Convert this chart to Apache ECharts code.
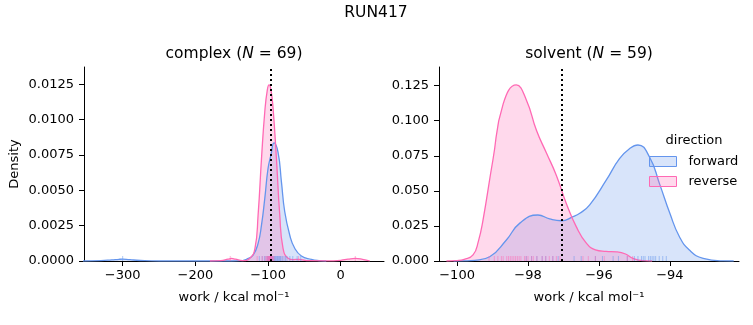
<!DOCTYPE html>
<html>
<head>
<meta charset="utf-8">
<script src="https://cdn.jsdelivr.net/npm/echarts@6/dist/echarts.min.js"></script>
<style>
html,body{margin:0;padding:0;background:#fff;}
#chart{width:753px;height:325px;}
</style>
</head>
<body>
<div id="chart"></div>
<script>
// ---------- data ----------
const suptitle = 'RUN417';
const legendTitle = 'direction';
const directions = ['forward', 'reverse'];
const xLabel = 'work / kcal mol\u207B\u00B9';
const yLabel = 'Density';

// complex panel (N = 69)
const complexN = 69;
const complexXTicks = [-300, -200, -100, 0];
const complexYTicks = [0, 0.0025, 0.005, 0.0075, 0.01, 0.0125];
const complexMean = -96.3;
const complexFwdX = [-355, -330, -315, -305, -300, -295, -285, -270, -250, -200, -150, -135, -129.7, -120.6, -113.7, -109, -104.5, -100, -96, -91.8, -86.3, -81.6, -77.1, -70.2, -63.3, -54.1, -40.4, -30, -20];
const complexFwdY = [0, 0.00003, 0.00008, 0.00012, 0.00013, 0.00012, 0.00007, 0.00002, 0, 0, 0, 0.00003, 0.00012, 0.00042, 0.00125, 0.00255, 0.00443, 0.00655, 0.0075, 0.00836, 0.0077, 0.0056, 0.0035, 0.00184, 0.0009, 0.00035, 0.00012, 0.00003, 0];
const complexRevX = [-180, -165, -155, -150, -145, -135, -125, -118, -113.7, -109, -104.5, -101, -98.6, -96, -93.1, -88.5, -83.9, -79.4, -72.5, -65, -58, -52, -45, -20, 0, 10, 20, 30, 40];
const complexRevY = [0, 0.00003, 0.00013, 0.00018, 0.00013, 0.00003, 0.0002, 0.0009, 0.00325, 0.00726, 0.01056, 0.0121, 0.01245, 0.0121, 0.0108, 0.00726, 0.00325, 0.0009, 0.0002, 0.0001, 0.00012, 0.00008, 0.00002, 0.00001, 0.00005, 0.00013, 0.00018, 0.00012, 0];
const complexRugFwd = [-300, -112, -108, -105, -103, -101, -100, -99, -98, -97, -96, -95, -94, -93, -92, -91, -90, -89, -88, -87, -86, -85, -84, -83, -82, -80, -78, -76, -74, -70, -66, -60, -55];
const complexRugRev = [-152, -115, -108, -104, -102, -101, -100, -99.5, -99, -98.5, -98, -97.5, -97, -96.5, -96, -95.5, -95, -94, -93, -92, -58, 20];

// solvent panel (N = 59)
const solventN = 59;
const solventXTicks = [-100, -98, -96, -94];
const solventYTicks = [0, 0.025, 0.05, 0.075, 0.1, 0.125];
const solventMean = -97.05;
const solventFwdX = [-100.1, -99.8, -99.5, -99.08, -98.61, -98.23, -97.72, -97.39, -97.06, -96.73, -96.54, -96.26, -95.79, -95.42, -95.14, -94.9, -94.57, -94.29, -94.0, -93.73, -93.45, -93.06, -92.5, -92.2];
const solventFwdY = [0, 0.0001, 0.0005, 0.003, 0.015, 0.027, 0.0328, 0.030, 0.0287, 0.0316, 0.034, 0.040, 0.0578, 0.073, 0.080, 0.0827, 0.074, 0.055, 0.034, 0.0173, 0.0078, 0.0019, 0.0001, 0];
const solventRevX = [-100.3, -100.0, -99.8, -99.55, -99.4, -99.27, -98.99, -98.7, -98.33, -98.05, -97.76, -97.48, -97.2, -96.92, -96.64, -96.35, -96.1, -95.8, -95.5, -95.25, -95.04, -94.76, -94.5];
const solventRevY = [0, 0.0003, 0.0012, 0.0043, 0.014, 0.029, 0.072, 0.112, 0.1255, 0.115, 0.093, 0.077, 0.061, 0.041, 0.0245, 0.0126, 0.008, 0.0069, 0.0065, 0.005, 0.0019, 0.0002, 0];
const solventRugRev = [-99.1, -98.95, -98.85, -98.75, -98.7, -98.6, -98.55, -98.5, -98.45, -98.4, -98.35, -98.3, -98.25, -98.2, -98.1, -98.05, -98.0, -97.9, -97.85, -97.75, -97.6, -97.5, -97.4, -97.3, -97.2, -97.1, -96.45, -96.3, -96.1, -95.85, -95.2, -95.05];
const solventRugFwd = [-98.05, -97.9, -97.75, -97.6, -97.5, -97.3, -97.15, -96.7, -96.5, -96.1, -95.9, -95.6, -95.45, -95.2, -95.0, -94.9, -94.8, -94.75, -94.7, -94.6, -94.55, -94.5, -94.45, -94.4, -94.3, -94.2, -94.1];

// ---------- styling ----------
const FONT = 'DejaVu Sans';
const BLUE = '#6495ED', PINK = '#FF69B4';
const BLUE_FILL = 'rgba(100,149,237,0.25)', PINK_FILL = 'rgba(255,105,180,0.25)';
const zip = (xs, ys) => xs.map((x, i) => [x, ys[i]]);
const minus = v => String(v).replace('-', '\u2212');

function xAxisDef(idx, min, max, ticks) {
  return {
    type: 'value', gridIndex: idx, min: min, max: max,
    splitLine: {show: false},
    axisLine: {show: true, onZero: false, lineStyle: {color: '#000', width: 1}},
    axisTick: {show: true, customValues: ticks, length: 5, lineStyle: {color: '#000', width: 1}},
    axisLabel: {show: true, customValues: ticks, margin: 8, fontSize: 13, fontFamily: FONT, color: '#000', formatter: v => minus(v)},
    name: xLabel, nameLocation: 'middle', nameGap: 30,
    nameTextStyle: {fontSize: 13, fontFamily: FONT, color: '#000'}
  };
}
function yAxisDef(idx, max, ticks, dec, withName) {
  const a = {
    type: 'value', gridIndex: idx, min: 0, max: max,
    splitLine: {show: false},
    axisLine: {show: true, onZero: false, lineStyle: {color: '#000', width: 1}},
    axisTick: {show: true, customValues: ticks, length: 5, lineStyle: {color: '#000', width: 1}},
    axisLabel: {show: true, customValues: ticks, margin: 10, fontSize: 13, fontFamily: FONT, color: '#000', formatter: v => v.toFixed(dec)}
  };
  if (withName) {
    a.name = yLabel; a.nameLocation = 'middle'; a.nameGap = 63;
    a.nameTextStyle = {fontSize: 13, fontFamily: FONT, color: '#000'};
  }
  return a;
}
function kde(name, idx, xs, ys, color, fill, mean) {
  const s = {
    name: name, type: 'line', xAxisIndex: idx, yAxisIndex: idx,
    data: zip(xs, ys), smooth: 0.5, showSymbol: false, symbol: 'none',
    lineStyle: {color: color, width: 1.3}, itemStyle: {color: color},
    areaStyle: {color: fill, opacity: 1}, z: 2
  };
  if (mean !== undefined) {
    s.markLine = {
      silent: true, symbol: 'none', label: {show: false},
      lineStyle: {color: '#000', type: [2, 3], width: 2},
      data: [{xAxis: mean}], z: 5
    };
  }
  return s;
}
function rug(name, idx, xs, color) {
  return {
    name: name, type: 'scatter', xAxisIndex: idx, yAxisIndex: idx,
    data: xs.map(x => [x, 0]), symbol: 'rect', symbolSize: [1, 5], symbolOffset: [0, -2.5],
    itemStyle: {color: color, opacity: 0.5}, clip: false, z: 3, silent: true
  };
}

const chart = echarts.init(document.getElementById('chart'), null, {renderer: 'canvas'});
chart.setOption({
  animation: false,
  backgroundColor: '#fff',
  grid: [
    {left: 84, top: 67, width: 300, height: 194},
    {left: 439, top: 67, width: 300, height: 194}
  ],
  xAxis: [
    xAxisDef(0, -353.2, 59.5, complexXTicks),
    xAxisDef(1, -100.51, -92.05, solventXTicks)
  ],
  yAxis: [
    yAxisDef(0, 0.01372, complexYTicks, 4, true),
    yAxisDef(1, 0.1383, solventYTicks, 3, false)
  ],
  legend: {
    data: [
      {name: directions[0], itemStyle: {color: BLUE_FILL, borderColor: BLUE, borderWidth: 1}},
      {name: directions[1], itemStyle: {color: PINK_FILL, borderColor: PINK, borderWidth: 1}}
    ],
    orient: 'vertical', left: 649, top: 155, padding: 0, icon: 'rect',
    itemWidth: 27, itemHeight: 10, itemGap: 7,
    textStyle: {fontSize: 13, fontFamily: FONT, color: '#000', padding: [0, 0, 0, 7]},
    selectedMode: false
  },
  graphic: [
    {type: 'text', x: 376, y: 13, style: {text: suptitle, align: 'center', verticalAlign: 'middle', fontSize: 15.5, fontFamily: FONT, fill: '#000'}},
    {type: 'text', x: 234, y: 54, style: {
      text: '{a|complex (}{i|N}{a| = ' + complexN + ')}', align: 'center', verticalAlign: 'middle',
      rich: {a: {fontSize: 15.5, fontFamily: FONT, fill: '#000'}, i: {fontSize: 15.5, fontFamily: FONT, fontStyle: 'italic', fill: '#000'}}
    }},
    {type: 'text', x: 589, y: 54, style: {
      text: '{a|solvent (}{i|N}{a| = ' + solventN + ')}', align: 'center', verticalAlign: 'middle',
      rich: {a: {fontSize: 15.5, fontFamily: FONT, fill: '#000'}, i: {fontSize: 15.5, fontFamily: FONT, fontStyle: 'italic', fill: '#000'}}
    }},
    {type: 'text', x: 694, y: 141, style: {text: legendTitle, align: 'center', verticalAlign: 'middle', fontSize: 13, fontFamily: FONT, fill: '#000'}}
  ],
  series: [
    kde(directions[0], 0, complexFwdX, complexFwdY, BLUE, BLUE_FILL),
    kde(directions[1], 0, complexRevX, complexRevY, PINK, PINK_FILL, complexMean),
    rug('forward rug', 0, complexRugFwd, BLUE),
    rug('reverse rug', 0, complexRugRev, PINK),
    kde(directions[0], 1, solventFwdX, solventFwdY, BLUE, BLUE_FILL),
    kde(directions[1], 1, solventRevX, solventRevY, PINK, PINK_FILL, solventMean),
    rug('forward rug', 1, solventRugFwd, BLUE),
    rug('reverse rug', 1, solventRugRev, PINK)
  ]
});
</script>
</body>
</html>
